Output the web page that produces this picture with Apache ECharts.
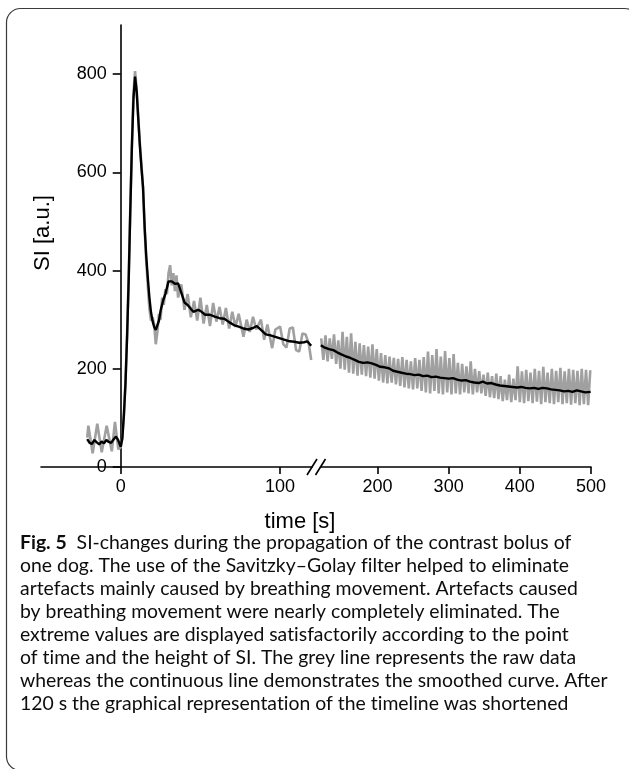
<!DOCTYPE html>
<html>
<head>
<meta charset="utf-8">
<script src="https://cdn.jsdelivr.net/npm/echarts@6.0.0/dist/echarts.min.js"></script>
<style>
  html, body { margin: 0; padding: 0; background: #fff; }
  #chart { width: 629px; height: 769px; }
</style>
</head>
<body>
<div id="chart"></div>
<script>
// Signal intensity (SI) over time for one dog: raw (grey) and Savitzky–Golay smoothed (black).
// The time axis is split at 120 s; the later part is drawn on a compressed scale.

const yTicks = [0, 200, 400, 600, 800];
const xTicksEarly = [0, 100];
const xTicksLate = [200, 300, 400, 500];
const earlyRange = [-50, 120];
const lateRange = [120, 500];
const siRange = [0, 900];

// raw signal, first 120 s  [time s, SI]
const rawEarly = [
  [-21, 60], [-20.3, 84], [-17.6, 28], [-14.7, 88], [-11.9, 30], [-8.8, 84], [-5.6, 32], [-3.6, 92], [-1.5, 36], [0, 40],
  [1, 60], [2, 108], [3, 175], [4, 270], [5, 385], [6, 525], [7, 655], [8, 760], [9, 806], [10, 770],
  [11, 712], [12, 660], [13, 615], [14, 568], [15, 485], [16, 420], [17, 370], [18, 322], [19, 298], [20, 305],
  [21, 290], [22, 250], [23, 275], [24, 312], [25, 300], [26, 345], [27, 330], [28, 362], [29, 352], [30, 395],
  [31, 411], [32, 370], [33, 395], [34, 358], [35, 390], [36, 345], [38, 372], [40, 320], [42, 352], [44, 305],
  [46, 338], [48, 298], [50, 345], [52, 292], [54, 330], [56, 287], [58, 334], [60, 296], [62, 326], [64, 290],
  [66, 324], [68, 282], [70, 316], [72, 285], [74, 312], [77, 265], [79, 300], [81, 275], [83, 306], [85, 280],
  [88, 300], [90, 259], [92, 290], [95, 242], [97, 280], [100, 286], [102, 250], [104, 243], [106, 282], [108, 284],
  [110, 238], [112, 235], [114, 272], [116, 270], [118, 250], [119.5, 218]
];

// smoothed signal, first 120 s
const smoothEarly = [
  [-21, 57], [-19.5, 49], [-18, 47], [-16.5, 55], [-15, 50], [-13.5, 46], [-12, 52], [-10.5, 48], [-9, 55], [-7.5, 51],
  [-6, 49], [-4.5, 56], [-3, 62], [-1.5, 54], [0, 41], [1, 58], [2, 105], [3, 170], [4, 265], [5, 380],
  [6, 520], [7, 650], [8, 750], [9, 795], [10, 765], [11, 710], [12, 655], [13, 610], [14, 570], [15, 490],
  [16, 430], [17, 385], [18, 345], [19, 315], [20, 297], [21, 285], [22, 279], [23, 282], [24, 298], [25, 318],
  [26.7, 340], [28, 352], [29, 365], [30, 378], [31, 381], [32, 378], [34, 373], [36, 374], [38, 355], [40, 335],
  [42, 330], [44, 322], [45.6, 316], [47, 318], [48.5, 320], [50, 318], [53, 310], [56, 310], [59, 306], [62, 303],
  [65, 302], [68, 295], [71, 289], [74, 286], [77, 282], [80, 280], [83, 283], [85.4, 287], [88, 279], [91, 270],
  [94, 268], [97, 265], [100, 262], [103, 259], [106, 256], [109, 255], [112, 253], [115, 254], [117, 256], [119.5, 247]
];

// raw signal, 120–500 s
const rawLate = [
  [121, 262], [124, 218], [127, 268], [130, 215], [133, 262], [136, 220], [139, 270], [142, 210], [145, 258], [148, 200],
  [151, 275], [154, 198], [157, 265], [160, 192], [163, 272], [166, 190], [169, 255], [172, 186], [175, 252], [178, 188],
  [181, 248], [184, 185], [187, 245], [190, 182], [193, 250], [196, 180], [199, 240], [202, 176], [205, 232], [208, 172],
  [211, 228], [214, 170], [217, 225], [220, 172], [223, 222], [226, 168], [229, 220], [232, 165], [235, 224], [238, 162],
  [241, 218], [244, 160], [247, 215], [250, 158], [253, 222], [256, 160], [259, 218], [262, 155], [265, 224], [268, 152],
  [271, 235], [274, 150], [277, 228], [280, 155], [283, 240], [286, 150], [289, 225], [292, 148], [295, 236], [298, 152],
  [301, 222], [304, 148], [307, 230], [310, 150], [313, 212], [316, 148], [319, 210], [322, 152], [325, 205], [328, 150],
  [331, 215], [334, 148], [337, 200], [340, 152], [343, 195], [346, 150], [349, 188], [352, 145], [355, 192], [358, 142],
  [361, 185], [364, 140], [367, 190], [370, 138], [373, 185], [376, 134], [379, 178], [382, 136], [385, 188], [388, 132],
  [391, 180], [394, 136], [397, 205], [400, 132], [403, 195], [406, 130], [409, 198], [412, 134], [415, 192], [418, 130],
  [421, 200], [424, 133], [427, 196], [430, 128], [433, 204], [436, 132], [439, 192], [442, 130], [445, 200], [448, 128],
  [451, 196], [454, 132], [457, 202], [460, 128], [463, 195], [466, 130], [469, 200], [472, 127], [475, 198], [478, 130],
  [481, 196], [484, 126], [487, 200], [490, 128], [493, 198], [496, 126], [499, 197]
];

// smoothed signal, 120–500 s
const smoothLate = [
  [120.5, 248], [126, 243], [132, 240], [138, 238], [144, 233], [150, 229], [156, 225], [162, 222], [168, 218], [174, 214],
  [180, 212], [186, 213], [192, 211], [198, 208], [204, 204], [210, 203], [216, 201], [222, 196], [228, 194], [234, 192],
  [240, 190], [246, 189], [252, 187], [258, 188], [264, 185], [270, 186], [276, 183], [282, 184], [288, 182], [294, 181],
  [300, 180], [306, 181], [312, 178], [318, 176], [324, 177], [330, 174], [336, 172], [342, 171], [348, 174], [354, 170],
  [360, 171], [366, 168], [372, 166], [378, 165], [384, 164], [390, 163], [396, 162], [402, 163], [408, 161], [414, 160],
  [420, 161], [426, 159], [432, 161], [438, 160], [444, 158], [450, 157], [456, 156], [462, 154], [468, 155], [474, 153],
  [480, 156], [486, 154], [492, 152], [499.5, 153]
];

const captionLines = [
  '  SI-changes during the propagation of the contrast bolus of',
  'one dog. The use of the Savitzky–Golay filter helped to eliminate',
  'artefacts mainly caused by breathing movement. Artefacts caused',
  'by breathing movement were nearly completely eliminated. The',
  'extreme values are displayed satisfactorily according to the point',
  'of time and the height of SI. The grey line represents the raw data',
  'whereas the continuous line demonstrates the smoothed curve. After',
  '120 s the graphical representation of the timeline was shortened'
];

const AXIS_FONT = 'Liberation Sans';
const CAPTION_FONT = 'Lato';

// keep "t" and "i" as separate glyphs (no ligature)
const noLig = (s) => s.replace(/ti/g, 't\u200Ci').replace(/fi/g, 'f\u200Ci');

// size the caption so its widest line spans the text column
const measureCtx = document.createElement('canvas').getContext('2d');
measureCtx.font = '100px ' + CAPTION_FONT;
const capSize = Math.round(100 * 587 / measureCtx.measureText(captionLines[6]).width * 10) / 10;

// plot geometry
const grid0 = { left: 41, right: 317, top: 25, bottom: 302 };
const grid1 = { left: 320.5, right: 38, top: 25, bottom: 302 };
const chartW = 629;
const grid0Width = chartW - grid0.left - grid0.right;
// shift the SI axis from the grid edge to t = 0
const yAxisShift = -(0 - earlyRange[0]) / (earlyRange[1] - earlyRange[0]) * grid0Width;

const axisLineStyle = { color: '#000', width: 1.6 };
const labelStyle = { color: '#000', fontFamily: AXIS_FONT, fontSize: 18 };

const chart = echarts.init(document.getElementById('chart'), null, { renderer: 'canvas' });

const captionGraphics = captionLines.map((line, i) => ({
  type: 'text',
  id: 'caption' + i,
  x: 20,
  y: 543 + i * 23,
  style: {
    text: i === 0 ? '{b|Fig. 5}' + noLig(line) : noLig(line),
    fill: '#0d0d0d',
    fontFamily: CAPTION_FONT,
    fontSize: capSize,
    fontWeight: 'normal',
    verticalAlign: 'middle',
    rich: {
      b: { fontFamily: CAPTION_FONT, fontSize: capSize, fontWeight: 'bold', fill: '#0d0d0d' }
    }
  }
}));

chart.setOption({
  animation: false,
  backgroundColor: '#fff',
  grid: [grid0, grid1],
  xAxis: [
    {
      type: 'value', gridIndex: 0, min: earlyRange[0], max: earlyRange[1],
      axisLine: { onZero: false, lineStyle: axisLineStyle },
      axisTick: { customValues: xTicksEarly, length: 7, lineStyle: axisLineStyle },
      axisLabel: Object.assign({ customValues: xTicksEarly, margin: 11 }, labelStyle),
      splitLine: { show: false }
    },
    {
      type: 'value', gridIndex: 1, min: lateRange[0], max: lateRange[1],
      axisLine: { onZero: false, lineStyle: axisLineStyle },
      axisTick: { customValues: xTicksLate, length: 7, lineStyle: axisLineStyle },
      axisLabel: Object.assign({ customValues: xTicksLate, margin: 11 }, labelStyle),
      splitLine: { show: false }
    }
  ],
  yAxis: [
    {
      type: 'value', gridIndex: 0, min: siRange[0], max: siRange[1], offset: yAxisShift,
      axisLine: { show: true, onZero: false, lineStyle: axisLineStyle },
      axisTick: { show: true, customValues: yTicks, length: 8, lineStyle: axisLineStyle },
      axisLabel: Object.assign({ customValues: yTicks, margin: 14 }, labelStyle),
      splitLine: { show: false }
    },
    {
      type: 'value', gridIndex: 1, min: siRange[0], max: siRange[1], show: false,
      splitLine: { show: false }
    }
  ],
  series: [
    {
      name: 'raw', type: 'line', xAxisIndex: 0, yAxisIndex: 0, data: rawEarly,
      showSymbol: false, lineStyle: { color: '#a0a0a0', width: 2.6 }, z: 2
    },
    {
      name: 'smoothed', type: 'line', xAxisIndex: 0, yAxisIndex: 0, data: smoothEarly,
      showSymbol: false, lineStyle: { color: '#000', width: 2.4 }, z: 3
    },
    {
      name: 'raw', type: 'line', xAxisIndex: 1, yAxisIndex: 1, data: rawLate,
      showSymbol: false, lineStyle: { color: '#a0a0a0', width: 2.6 }, z: 2
    },
    {
      name: 'smoothed', type: 'line', xAxisIndex: 1, yAxisIndex: 1, data: smoothLate,
      showSymbol: false, lineStyle: { color: '#000', width: 2.4 }, z: 3
    }
  ],
  graphic: [
    {
      type: 'rect', id: 'frame', silent: true,
      shape: { x: 6.5, y: 8.5, width: 632, height: 762, r: 14 },
      style: { fill: 'none', stroke: '#3a3a3a', lineWidth: 1.2 }
    },
    {
      type: 'text', id: 'yTitle', x: 43, y: 233, rotation: Math.PI / 2,
      style: {
        text: 'SI [a.u.]', fill: '#000', fontFamily: AXIS_FONT, fontSize: 22, fontWeight: 'normal',
        stroke: null, lineWidth: 0, align: 'center', verticalAlign: 'middle'
      }
    },
    {
      type: 'text', id: 'xTitle', x: 300, y: 522,
      style: {
        text: 'time [s]', fill: '#000', fontFamily: AXIS_FONT, fontSize: 22, fontWeight: 'normal',
        stroke: null, lineWidth: 0, align: 'center', verticalAlign: 'middle'
      }
    }
  ].concat(captionGraphics)
});

// axis-break marks ("//") where the two time scales meet
const yBase = chart.convertToPixel({ yAxisIndex: 0 }, 0);
const xEnd = chart.convertToPixel({ xAxisIndex: 0 }, earlyRange[1]);
const xStart = chart.convertToPixel({ xAxisIndex: 1 }, lateRange[0]);
const slash = (id, cx) => ({
  type: 'line', id: id, silent: true, z: 100,
  shape: { x1: cx - 5, y1: yBase + 8, x2: cx + 5, y2: yBase - 8 },
  style: { stroke: '#000', lineWidth: 1.6 }
});
chart.setOption({
  graphic: [slash('break0', xEnd), slash('break1', xStart)]
});
</script>
</body>
</html>
